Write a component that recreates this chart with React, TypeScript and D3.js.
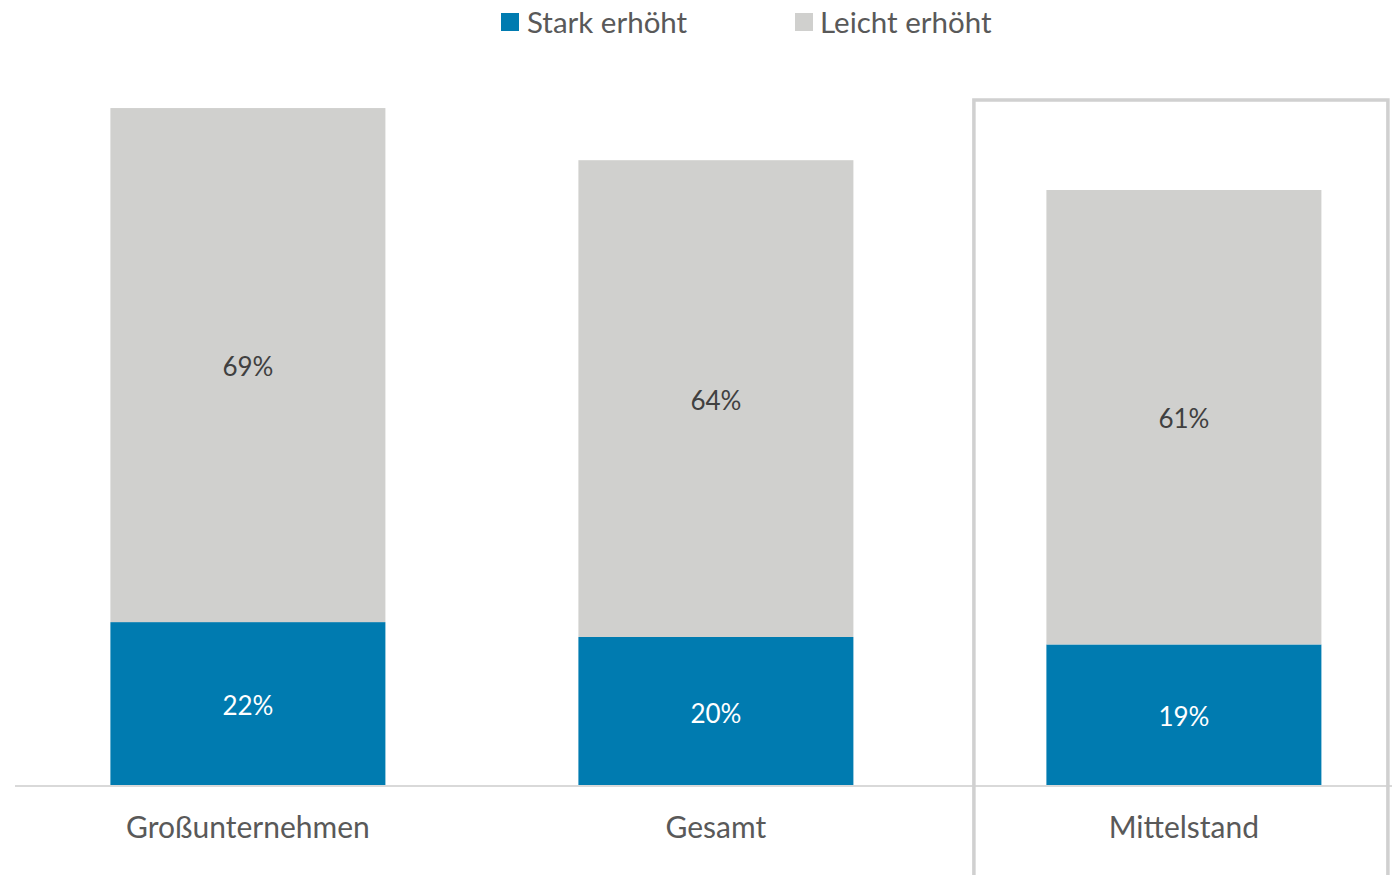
import React from "react";
import * as d3 from "d3";

const categories = ["Großunternehmen", "Gesamt", "Mittelstand"];
const starkErhoeht = [22, 20, 19];
const leichtErhoeht = [69, 64, 61];
const seriesNames = ["Stark erhöht", "Leicht erhöht"];
const highlighted = "Mittelstand";

const W = 1392;
const H = 875;
const BLUE = "#007BB0";
const GRAY = "#D0D0CE";
const FONT = "Lato, 'Open Sans', sans-serif";

export default function App() {
  const baseY = 786;
  const x = d3
    .scaleBand<string>()
    .domain(categories)
    .range([16.8, 1415])
    .paddingInner(0.4124)
    .paddingOuter(0.2);
  const bw = x.bandwidth();
  const xc = (c: string) => (x(c) as number) + bw / 2;
  const y = d3.scaleLinear().domain([0, 100]).range([baseY, baseY - 745]);

  const stack = d3.stack<any>().keys(["s", "l"])(
    categories.map((c, i) => ({ c, s: starkErhoeht[i], l: leichtErhoeht[i] }))
  );

  const hx = xc(highlighted);

  return (
    <svg width={W} height={H} style={{ position: "absolute", left: 0, top: 0 }} fontFamily={FONT}>
      <rect width={W} height={H} fill="#fff" />
      <g>
        <rect x={501} y={13} width={18} height={18} fill={BLUE} />
        <text x={527} y={23} dy="0.35em" fontSize={29.5} fill="#595959">{seriesNames[0]}</text>
        <rect x={795} y={13} width={18} height={18} fill={GRAY} />
        <text x={820} y={23} dy="0.35em" fontSize={29.5} fill="#595959">{seriesNames[1]}</text>
      </g>
      {stack.map((layer, li) =>
        layer.map((d, i) => {
          const c = categories[i];
          const y0 = y(d[0]);
          const y1 = y(d[1]);
          return (
            <g key={`${li}-${i}`}>
              <rect x={x(c)} y={y1} width={bw} height={y0 - y1} fill={li === 0 ? BLUE : GRAY} />
              <text
                x={xc(c)}
                y={(y0 + y1) / 2 + 2}
                dy="0.35em"
                textAnchor="middle"
                fontSize={26}
                fill={li === 0 ? "#ffffff" : "#404040"}
              >
                {`${d[1] - d[0]}%`}
              </text>
            </g>
          );
        })
      )}
      <line x1={15} x2={W} y1={baseY} y2={baseY} stroke="#d9d9d9" strokeWidth={2} />
      {categories.map((c) => (
        <text key={c} x={xc(c)} y={827} dy="0.35em" textAnchor="middle" fontSize={30} fill="#595959">
          {c}
        </text>
      ))}
      <path
        d={`M${hx - 210},${H + 5} L${hx - 210},100 L${hx + 204},100 L${hx + 204},${H + 5}`}
        fill="none"
        stroke="#d0d0d0"
        strokeWidth={3.5}
      />
    </svg>
  );
}
